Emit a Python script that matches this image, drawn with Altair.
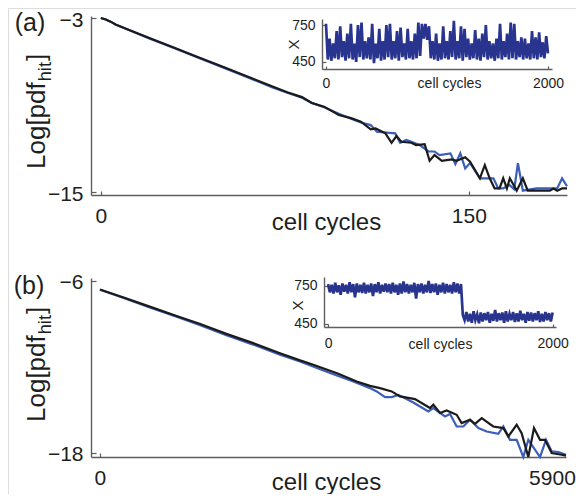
import altair as alt
import pandas as pd

# ---------------- data ----------------
# panel (a), main plot
a_black_x = [0, 2, 4, 6, 10, 20, 30, 40, 50, 60, 70, 76, 82, 86, 91, 97, 102, 106, 110, 112,
             116, 118.5, 120.5, 122.5, 126.5, 128.5, 132, 134, 136, 139, 143, 145, 148.5, 150.5, 154.5,
             156.5, 158.5, 160.5, 162.5, 164, 165.5, 166.7, 169.5, 172, 174, 183, 184.5, 186, 188, 190]
a_black_y = [-3.0, -3.1, -3.25, -3.45, -3.72, -4.4, -5.05, -5.72, -6.38, -7.05, -7.72, -8.12, -8.45,
             -8.86, -9.11, -9.69, -9.9, -10.15, -10.68, -10.61, -10.95, -11.6, -11.14, -11.53, -11.6,
             -11.76, -11.69, -12.84, -12.45, -12.84, -12.75, -12.84, -12.6, -12.9, -14.05, -13.14,
             -14.05, -14.75, -14.75, -14.05, -14.75, -14.05, -14.9, -14.05, -14.9, -14.9, -14.75,
             -14.9, -14.75, -14.75]
a_blue_x = [0, 2, 4, 6, 10, 20, 30, 40, 50, 60, 70, 76, 82, 86, 91, 97, 102, 106, 110, 112.5,
            120, 122, 124.5, 130, 133.5, 136, 138, 142.5, 144.5, 146.5, 148.5, 150.5, 154.5, 160, 162,
            164, 166.5, 168.5, 170, 172, 177.5, 186, 188, 190]
a_blue_y = [-3.0, -3.1, -3.25, -3.45, -3.72, -4.42, -5.08, -5.75, -6.42, -7.1, -7.78, -8.15, -8.5,
            -8.85, -9.15, -9.6, -9.95, -10.2, -10.38, -10.84, -10.95, -11.6, -11.41, -11.76, -12.2,
            -12.2, -12.45, -12.33, -13.07, -12.33, -13.37, -13.0, -14.05, -14.05, -14.75, -14.75,
            -14.5, -14.8, -13.0, -14.9, -14.75, -14.75, -14.05, -14.6]

# panel (b), main plot
b_black_x = [0, 300, 650, 1000, 1300, 1650, 2000, 2350, 2611, 2785, 3111, 3351, 3525, 3655, 3808,
             3916, 4112, 4308, 4351, 4439, 4525, 4656, 4721, 4830, 4896, 4983, 5133, 5265, 5330,
             5439, 5504, 5591, 5665, 5744, 5809, 5896, 6026, 6083]
b_black_y = [-6.6, -7.15, -7.8, -8.45, -9.0, -9.7, -10.35, -11.05, -11.55, -11.86, -12.49, -13.03,
             -13.33, -13.49, -13.72, -14.07, -14.26, -14.88, -14.65, -15.23, -15.05, -15.35, -15.93,
             -15.7, -15.98, -15.58, -16.17, -16.28, -16.86, -16.05, -16.63, -18.3, -16.28, -17.1,
             -17.1, -18.02, -18.14, -18.2]
b_blue_x = [0, 300, 650, 1000, 1300, 1650, 2000, 2350, 2611, 3003, 3307, 3525, 3612, 3721, 3808,
            3894, 4090, 4286, 4351, 4504, 4569, 4656, 4743, 4830, 4939, 5048, 5200, 5265, 5352,
            5439, 5526, 5591, 5744, 5822, 5896, 5983, 6083]
b_blue_y = [-6.62, -7.18, -7.85, -8.5, -9.08, -9.8, -10.45, -11.16, -11.63, -12.44, -13.03, -13.49,
            -13.72, -14.12, -14.12, -13.96, -14.5, -15.12, -14.88, -15.47, -15.3, -16.17, -16.17,
            -15.7, -16.28, -16.52, -16.68, -16.17, -17.1, -17.1, -18.3, -17.1, -18.3, -17.1, -17.9,
            -17.95, -18.14]

# insets: X over 2000 cell cycles (alternating upper / lower envelope readings)
inset_a_vals = [760, 470, 640, 460, 600, 480, 700, 470, 740, 490, 620, 460, 680, 480, 760, 470,
                600, 450, 750, 490, 770, 470, 620, 480, 650, 470, 760, 440, 600, 480, 720, 460,
                620, 470, 750, 490, 760, 470, 620, 480, 700, 460, 730, 490, 600, 470, 720, 480,
                620, 470, 680, 480, 770, 500, 760, 640, 760, 630, 740, 480, 620, 470, 680, 460,
                600, 470, 740, 480, 620, 470, 700, 490, 785, 470, 620, 480, 740, 460, 720, 490,
                640, 470, 600, 480, 710, 470, 640, 460, 680, 490, 750, 470, 620, 480, 600, 460,
                640, 480, 760, 470, 620, 490, 680, 470, 770, 480, 760, 470, 620, 490, 650, 470,
                640, 480, 600, 470, 700, 480, 650, 470, 690, 490, 610, 480, 660, 520]
inset_b_vals = [765, 700, 760, 690, 775, 700, 755, 680, 770, 705, 760, 690, 780, 700, 765, 660,
                770, 700, 760, 695, 775, 690, 760, 700, 770, 670, 765, 700, 780, 690, 760, 705,
                770, 700, 765, 690, 775, 700, 760, 680, 770, 690, 785, 700, 765, 690, 760, 700,
                775, 650, 765, 700, 770, 690, 760, 700, 790, 695, 765, 700, 770, 680, 760, 700,
                775, 690, 765, 700, 760, 690, 780, 700, 770, 690, 765,
                520, 480, 545, 470, 530, 460, 550, 480, 525, 455, 540, 470, 535, 480, 545, 460,
                530, 475, 560, 470, 535, 480, 540, 460, 550, 470, 530, 480, 545, 465, 535, 470,
                555, 480, 530, 460, 545, 475, 540, 470, 535, 480, 550, 465, 530, 470, 545, 480,
                535, 470, 540]

def grid(n):
    return [i * 2000.0 / (n - 1) for i in range(n)]

# ---------------- styling ----------------
BLUE = "#3c5eb8"
NAVY = "#29348f"
BLACK = "#1b1b1b"
AXIS = "#5e5e5e"
TXT = "#1e1e1e"
FONT = "Liberation Sans"
W, H = 568, 486  # plot area == whole svg (padding 0); page offset 8px


def P(v):
    """page pixel -> plot pixel"""
    return v - 8


def sc(dom, rng):
    return alt.Scale(domain=dom, range=rng, nice=False, zero=False)


def label_axis(orient, offset, values, lsize, lpad, title=None, **kw):
    return alt.Axis(orient=orient, offset=offset, values=values, format="d", grid=False,
                    domain=True, domainColor=AXIS, domainWidth=1.4, ticks=False, tickSize=0,
                    labelFont=FONT, labelFontSize=lsize, labelColor=TXT, labelPadding=lpad,
                    labelFlush=False, labelOverlap=False, title=title, titleFont=FONT,
                    titleColor=TXT, titleFontWeight="normal", **kw)


def tick_axis(orient, offset, values, size):
    return alt.Axis(orient=orient, offset=offset, values=values, grid=False, domain=False,
                    labels=False, ticks=True, tickSize=size, tickColor=AXIS, tickWidth=1.2,
                    title=None)


def line(data, color, xs, ys, xaxis, yaxis, width=2.2, opacity=1.0):
    return alt.Chart(data).mark_line(color=color, strokeWidth=width, opacity=opacity,
                                     strokeJoin="miter").encode(
        x=alt.X("x:Q", scale=xs, axis=xaxis),
        y=alt.Y("y:Q", scale=ys, axis=yaxis),
    )


layers = []

# ---- panel (a) main ----
xa = sc([-4, 190], [P(91), P(567)])
ya = sc([-15.2, -2.86], [P(195), P(16)])
off_xa = P(195) - H
off_ya = -P(91)
layers.append(line(pd.DataFrame({"x": a_blue_x, "y": a_blue_y}), BLUE, xa, ya,
                   label_axis("bottom", off_xa, [0, 150], 21, 10, "cell cycles", titleFontSize=24,
                              titleX=P(326), titleY=34, titleBaseline="alphabetic",
                              titleAlign="center"),
                   label_axis("left", off_ya, [-3, -15], 21, 8, labelOffset=2)))
layers.append(line(pd.DataFrame({"x": a_black_x, "y": a_black_y}), BLACK, xa, ya,
                   tick_axis("bottom", off_xa - 4, [0, 150], 4),
                   tick_axis("left", off_ya - 5, [-3, -15], 5)))

# ---- panel (b) main ----
xb = sc([-117, 6083], [P(91), P(566)])
yb = sc([-18.3, -5.8], [P(457), P(278)])
off_xb = P(457) - H
off_yb = -P(91)
layers.append(line(pd.DataFrame({"x": b_blue_x, "y": b_blue_y}), BLUE, xb, yb,
                   label_axis("bottom", off_xb, [0, 5900], 21, 10, "cell cycles", titleFontSize=24,
                              titleX=P(326), titleY=32, titleBaseline="alphabetic",
                              titleAlign="center"),
                   label_axis("left", off_yb, [-6, -18], 21, 8, labelOffset=1.5)))
layers.append(line(pd.DataFrame({"x": b_black_x, "y": b_black_y}), BLACK, xb, yb,
                   tick_axis("bottom", off_xb - 4, [0], 4),
                   tick_axis("left", off_yb - 5, [-6, -18], 5)))

# ---- inset (a) ----
ia = pd.DataFrame({"x": grid(len(inset_a_vals)), "y": inset_a_vals})
xia = sc([-36, 2036], [P(322), P(552)])
yia = sc([393, 799], [P(69), P(19)])
off_xia = P(69) - H
off_yia = -P(322)
layers.append(line(ia, NAVY, xia, yia,
                   label_axis("bottom", off_xia, [0, 2000], 14, 7, "cell cycles", titleFontSize=14,
                              titleX=P(449), titleY=14, titleBaseline="middle", titleAlign="center"),
                   label_axis("left", off_yia, [450, 750], 14, 7, "X", titleFontSize=15,
                              titleX=-29, titleY=P(44), titleAngle=270, titleBaseline="middle",
                              titleAlign="center"),
                   width=2.7))
layers.append(line(ia, NAVY, xia, yia,
                   tick_axis("bottom", off_xia - 3, [0, 2000], 3),
                   tick_axis("left", off_yia - 4, [450, 750], 4),
                   width=1.6, opacity=0.0))

# ---- inset (b) ----
ib = pd.DataFrame({"x": grid(len(inset_b_vals)), "y": inset_b_vals})
xib = sc([-36, 2030], [P(324), P(556)])
yib = sc([426, 821], [P(327), P(277)])
off_xib = P(327) - H
off_yib = -P(324)
layers.append(line(ib, NAVY, xib, yib,
                   label_axis("bottom", off_xib, [0, 2000], 14, 9, "cell cycles", titleFontSize=14,
                              titleX=P(440), titleY=17, titleBaseline="middle", titleAlign="center"),
                   label_axis("left", off_yib, [450, 750], 14, 7, "X", titleFontSize=15,
                              titleX=-27, titleY=P(305), titleAngle=270, titleBaseline="middle",
                              titleAlign="center"),
                   width=2.7))
layers.append(line(ib, NAVY, xib, yib,
                   tick_axis("bottom", off_xib - 3, [0, 2000], 3),
                   tick_axis("left", off_yib - 4, [450, 750], 4),
                   width=1.6, opacity=0.0))

# ---- panel letters and y titles ----
one = pd.DataFrame({"k": [0]})


def text(t, x, y, size, **kw):
    return alt.Chart(one).mark_text(text=t, font=FONT, fontSize=size, color=TXT, **kw).encode(
        x=alt.value(x), y=alt.value(y))


layers.append(text("(a)", P(30), P(23), 25, align="center", baseline="middle"))
layers.append(text("(b)", P(29), P(286), 25, align="center", baseline="middle"))


def ytitle(xb_page, yb_page, fs=26):
    sub = fs * 0.7
    w1 = 3.336 * fs
    w2 = 1.056 * sub
    out = [
        text("Log[pdf", P(xb_page), P(yb_page), fs, angle=270, align="left", baseline="alphabetic"),
        text("hit", P(xb_page + fs * 0.24), P(yb_page - w1 - 1), sub, angle=270, align="left",
             baseline="alphabetic"),
        text("]", P(xb_page), P(yb_page - w1 - w2 - 2), fs, angle=270, align="left",
             baseline="alphabetic"),
    ]
    return out


layers += ytitle(45, 169)
layers += ytitle(45, 422)

chart = alt.layer(*layers).resolve_scale(x="independent", y="independent").properties(
    width=W, height=H, autosize=alt.AutoSizeParams(type="none"), padding=0
).configure_view(stroke=None).configure(background="white")

chart.save("out.html", embed_options={"renderer": "svg", "actions": False})
